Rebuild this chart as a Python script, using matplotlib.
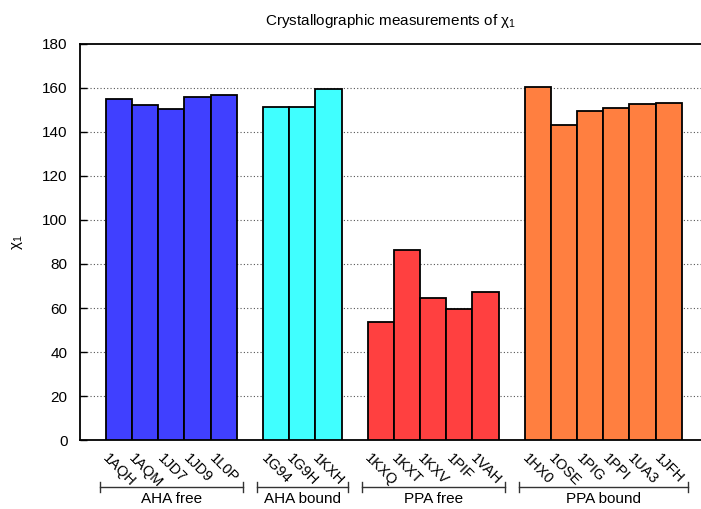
import matplotlib
matplotlib.use("Agg")
import matplotlib.pyplot as plt
import matplotlib.transforms as mtransforms

plt.rcParams["font.family"] = ["Liberation Sans", "DejaVu Sans"]
plt.rcParams["mathtext.fontset"] = "custom"
plt.rcParams["mathtext.rm"] = "Liberation Sans"
plt.rcParams["mathtext.it"] = "Liberation Sans:italic"

# chi1 angles per PDB entry, grouped by protein / binding state
aha_free_ids = ["1AQH", "1AQM", "1JD7", "1JD9", "1L0P"]
aha_free_chi1 = [155.0, 152.1, 150.5, 156.1, 157.0]

aha_bound_ids = ["1G94", "1G9H", "1KXH"]
aha_bound_chi1 = [151.4, 151.5, 159.5]

ppa_free_ids = ["1KXQ", "1KXT", "1KXV", "1PIF", "1VAH"]
ppa_free_chi1 = [53.8, 86.4, 64.7, 59.5, 67.3]

ppa_bound_ids = ["1HX0", "1OSE", "1PIG", "1PPI", "1UA3", "1JFH"]
ppa_bound_chi1 = [160.3, 143.2, 149.5, 150.8, 152.9, 153.0]

group_names = ["AHA free", "AHA bound", "PPA free", "PPA bound"]
group_colors = ["#4040ff", "#40ffff", "#ff4040", "#ff7f40"]
groups = [
    (aha_free_ids, aha_free_chi1),
    (aha_bound_ids, aha_bound_chi1),
    (ppa_free_ids, ppa_free_chi1),
    (ppa_bound_ids, ppa_bound_chi1),
]

fig = plt.figure(figsize=(7.01, 5.09), dpi=100)
ax = fig.add_axes([80 / 701, 69 / 509, 622 / 701, 396 / 509])

# bars sit in unit slots, one empty slot between groups
tick_pos = []
tick_labels = []
spans = []
start = 0
for (ids, vals), color in zip(groups, group_colors):
    xs = list(range(start, start + len(ids)))
    ax.bar(xs, vals, width=1.0, color=color, edgecolor="black",
           linewidth=1.3, zorder=3)
    tick_pos += xs
    tick_labels += ids
    spans.append((xs[0] - 0.5, xs[-1] + 0.5))
    start += len(ids) + 1

ax.set_xlim(-1.49, 22.27)
ax.set_ylim(0, 180)
ax.set_yticks(range(0, 181, 20))
for y in range(20, 180, 20):
    ax.axhline(y, color="#555555", linestyle=(0, (1, 2)), linewidth=0.8,
               zorder=1)

ax.set_xticks(tick_pos)
ax.set_xticklabels(tick_labels, rotation=-45, ha="center", va="top",
                   fontsize=10.5)
ax.tick_params(axis="x", length=0, pad=8)
ax.tick_params(axis="y", direction="in", length=5, width=1.0,
               labelsize=11, pad=9)

for side in ["left", "bottom", "top"]:
    ax.spines[side].set_linewidth(1.3)
ax.spines["right"].set_visible(False)

ax.set_title("Crystallographic measurements of χ$_1$", fontsize=11, pad=14)
ax.set_ylabel("χ$_1$", fontsize=11)
ax.yaxis.set_label_coords(-0.088, 0.5)

# group brackets under the tick labels
trans = mtransforms.blended_transform_factory(ax.transData, ax.transAxes)
bracket_y = -0.119
for (x0, x1), name in zip(spans, group_names):
    x0 -= 0.23
    x1 += 0.23
    ax.plot([x0, x1], [bracket_y, bracket_y], color="#333333", lw=1.0,
            transform=trans, clip_on=False)
    for xe in (x0, x1):
        ax.plot([xe, xe], [bracket_y - 0.012, bracket_y + 0.012],
                color="#333333", lw=1.0, transform=trans, clip_on=False)
    ax.text((x0 + x1) / 2, bracket_y - 0.012, name, transform=trans,
            ha="center", va="top", fontsize=11)

fig.savefig("out.png", dpi=100)
